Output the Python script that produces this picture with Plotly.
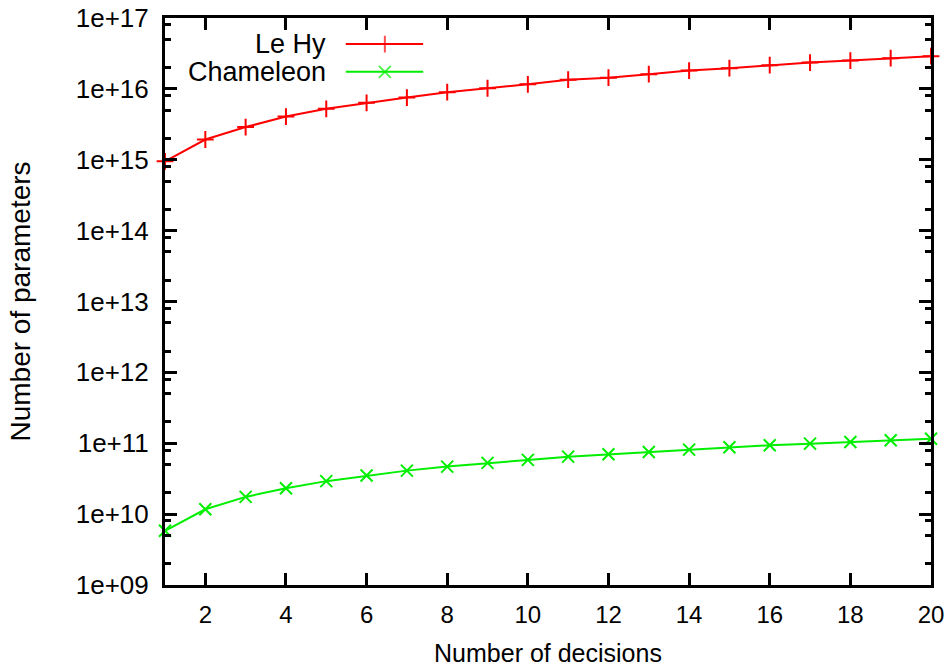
import plotly.graph_objects as go

decisions = list(range(1, 21))
le_hy = [9.5e14, 1.93e15, 2.89e15, 4.07e15, 5.23e15, 6.35e15, 7.54e15, 8.99e15, 1.02e16, 1.16e16,
         1.35e16, 1.44e16, 1.61e16, 1.81e16, 1.96e16, 2.16e16, 2.35e16, 2.51e16, 2.71e16, 2.89e16]
chameleon = [5.82e9, 1.17e10, 1.75e10, 2.32e10, 2.92e10, 3.5e10, 4.11e10, 4.68e10, 5.28e10, 5.82e10,
             6.47e10, 7.0e10, 7.54e10, 8.13e10, 8.79e10, 9.38e10, 9.87e10, 1.04e11, 1.1e11, 1.16e11]

y_tickvals = [1e9, 1e10, 1e11, 1e12, 1e13, 1e14, 1e15, 1e16, 1e17]
y_ticktext = ["1e+09", "1e+10", "1e+11", "1e+12", "1e+13", "1e+14", "1e+15", "1e+16", "1e+17"]
y_minor = [m * 10 ** e for e in range(9, 17) for m in (2, 5, 8)]
x_tickvals = [2, 4, 6, 8, 10, 12, 14, 16, 18, 20]

RED = "#ff0000"
GREEN = "#00ee00"
FONT = "Liberation Sans, Arial, sans-serif"

fig = go.Figure()
fig.add_trace(go.Scatter(x=decisions, y=le_hy, mode="lines+markers", name="Le Hy",
                         line=dict(color=RED, width=2),
                         marker=dict(symbol="cross-thin-open", size=12, line=dict(color=RED, width=2)),
                         cliponaxis=False, showlegend=False))
fig.add_trace(go.Scatter(x=decisions, y=chameleon, mode="lines+markers", name="Chameleon",
                         line=dict(color=GREEN, width=2),
                         marker=dict(symbol="x-thin-open", size=12, line=dict(color=GREEN, width=2)),
                         cliponaxis=False, showlegend=False))

# manual gnuplot-style key (text left, sample right) on a hidden overlay axis
key_names = ["Le Hy", "Chameleon"]
key_colors = [RED, GREEN]
key_symbols = ["cross-thin-open", "x-thin-open"]
key_y = [0.954, 0.905]
for name, col, sym, ky in zip(key_names, key_colors, key_symbols, key_y):
    fig.add_trace(go.Scatter(x=[0.236, 0.287, 0.337], y=[ky, ky, ky], mode="lines+markers",
                             xaxis="x3", yaxis="y3", showlegend=False, hoverinfo="skip",
                             line=dict(color=col, width=2),
                             marker=dict(symbol=sym, size=[0, 12, 0], line=dict(color=col, width=2))))
    fig.add_annotation(x=0.213, y=ky, xref="paper", yref="paper", text=name, showarrow=False,
                       xanchor="right", yanchor="middle", font=dict(family=FONT, size=27, color="#000"))

fig.update_layout(
    width=950, height=668,
    margin=dict(l=165, r=19, t=18, b=83, autoexpand=False),
    paper_bgcolor="white", plot_bgcolor="white",
    font=dict(family=FONT, size=24, color="#000"),
    xaxis=dict(range=[1, 20], tickmode="array", tickvals=x_tickvals, ticks="inside", ticklen=12,
               tickwidth=2.5, tickcolor="#000", showline=True, linecolor="#000", linewidth=3,
               mirror="allticks", showgrid=False, zeroline=False, ticklabelstandoff=6,
               automargin=False, ticklabeloverflow="allow", tickfont=dict(family=FONT, size=24),
               title=dict(text="Number of decisions", font=dict(family=FONT, size=25), standoff=18)),
    yaxis=dict(type="log", range=[9, 17], tickmode="array", tickvals=y_tickvals, ticktext=y_ticktext,
               ticks="inside", ticklen=12, tickwidth=2.5, tickcolor="#000", showline=True,
               linecolor="#000", linewidth=3, mirror="allticks", showgrid=False, zeroline=False,
               ticklabelstandoff=8, automargin=False, ticklabeloverflow="allow",
               tickfont=dict(family=FONT, size=26),
               minor=dict(tickmode="array", tickvals=y_minor, ticks="inside", ticklen=6,
                          tickwidth=2.5, tickcolor="#000", showgrid=False),
               title=dict(text="Number of parameters", font=dict(family=FONT, size=28), standoff=37)),
    xaxis3=dict(overlaying="x", range=[0, 1], visible=False, fixedrange=True),
    yaxis3=dict(overlaying="y", range=[0, 1], visible=False, fixedrange=True),
    showlegend=False,
    hovermode=False,
)

# remove the default 8px page margin so the 950x668 figure fills the window exactly
fig.write_html("out.html",
               config={"displayModeBar": False},
               post_script="document.body.style.margin='0px';document.body.style.overflow='hidden';")
